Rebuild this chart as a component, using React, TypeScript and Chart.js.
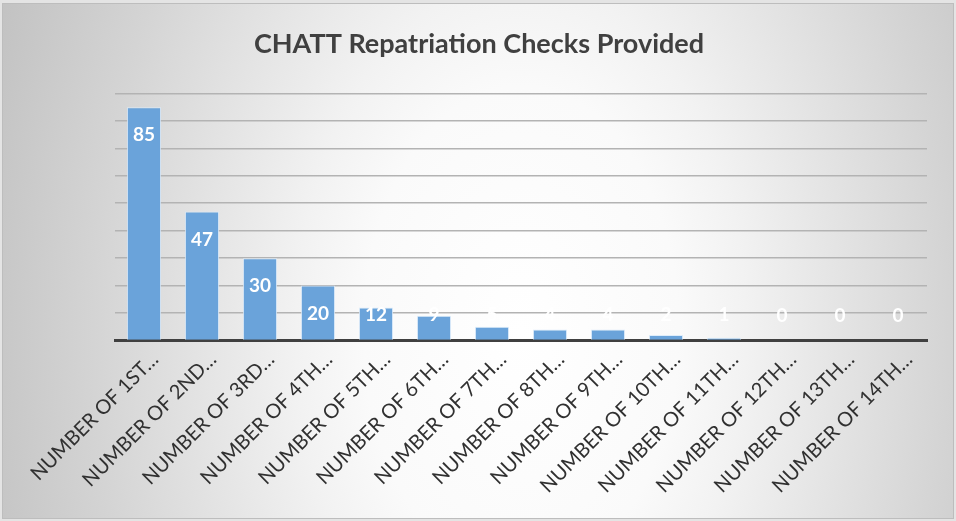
import { useEffect, useRef } from 'react';
import { Chart, registerables } from 'chart.js';

Chart.register(...registerables);

const chartTitle = 'CHATT Repatriation Checks Provided';
const categories = [
  'NUMBER OF 1ST…',
  'NUMBER OF 2ND…',
  'NUMBER OF 3RD…',
  'NUMBER OF 4TH…',
  'NUMBER OF 5TH…',
  'NUMBER OF 6TH…',
  'NUMBER OF 7TH…',
  'NUMBER OF 8TH…',
  'NUMBER OF 9TH…',
  'NUMBER OF 10TH…',
  'NUMBER OF 11TH…',
  'NUMBER OF 12TH…',
  'NUMBER OF 13TH…',
  'NUMBER OF 14TH…',
];
const checksProvided = [85, 47, 30, 20, 12, 9, 5, 4, 4, 2, 1, 0, 0, 0];
const yMin = 0;
const yMax = 90;
const yStep = 10;

const FONT = 'Lato, "Open Sans", sans-serif';

const dataLabelPlugin = {
  id: 'dataLabels',
  afterDatasetsDraw(chart: any) {
    const ctx = chart.ctx;
    const meta = chart.getDatasetMeta(0);
    const ds = chart.data.datasets[0];
    ctx.save();
    ctx.fillStyle = '#ffffff';
    ctx.font = `bold 19px ${FONT}`;
    ctx.textAlign = 'center';
    ctx.textBaseline = 'middle';
    meta.data.forEach((bar: any, i: number) => {
      const base = bar.base;
      const y = Math.min(bar.y + 28, base - 25);
      ctx.fillText(String(ds.data[i]), bar.x, y);
    });
    ctx.restore();
  },
};

export default function App() {
  const ref = useRef<HTMLCanvasElement | null>(null);
  useEffect(() => {
    if (!ref.current) return;
    const chart = new Chart(ref.current, {
      type: 'bar',
      data: {
        labels: categories,
        datasets: [
          {
            data: checksProvided,
            backgroundColor: '#6aa3da',
            borderColor: 'rgba(220,235,250,0.9)',
            borderWidth: 1,
            barPercentage: 0.59,
            categoryPercentage: 1,
          },
        ],
      },
      options: {
        animation: false,
        responsive: false,
        maintainAspectRatio: false,
        layout: { padding: { left: 31, right: 29, top: 0, bottom: 0 } },
        plugins: {
          legend: { display: false },
          tooltip: { enabled: false },
          title: {
            display: true,
            text: chartTitle,
            color: '#404040',
            font: { family: FONT, size: 27, weight: 'bold' },
            padding: { top: 28, bottom: 33 },
          },
        },
        scales: {
          x: {
            grid: { display: false, drawTicks: false },
            border: { display: true, color: '#404040', width: 3 },
            ticks: {
              color: '#303030',
              font: { family: FONT, size: 20 },
              minRotation: 45,
              maxRotation: 45,
              autoSkip: false,
              padding: 7,
              labelOffset: 11,
            },
            afterFit(scale: any) {
              scale.height = 180.5;
            },
          },
          y: {
            min: yMin,
            max: yMax,
            ticks: { display: false, stepSize: yStep },
            border: { display: false },
            grid: { color: '#b3b3b3', lineWidth: 1.5, drawTicks: false },
            afterFit(scale: any) {
              scale.width = 84;
            },
          },
        },
      },
      plugins: [dataLabelPlugin],
    });
    return () => chart.destroy();
  }, []);

  return (
    <div
      style={{
        position: 'fixed',
        left: 0,
        top: 0,
        width: 956,
        height: 521,
        background: '#e4e4e4',
      }}
    >
      <div
        style={{
          position: 'absolute',
          left: 2,
          top: 3,
          width: 952,
          height: 516,
          boxSizing: 'border-box',
          border: '1px solid #bdbdbd',
          background:
            'radial-gradient(450px 700px at 518px 327px, #ffffff 0%, #fafafa 35%, #f2f2f2 50%, #d4d4d4 95%, #c2c2c2 125%)',
        }}
      />
      <canvas
        ref={ref}
        width={956}
        height={521}
        style={{ display: 'block', position: 'absolute', left: 0, top: 0 }}
      />
    </div>
  );
}
